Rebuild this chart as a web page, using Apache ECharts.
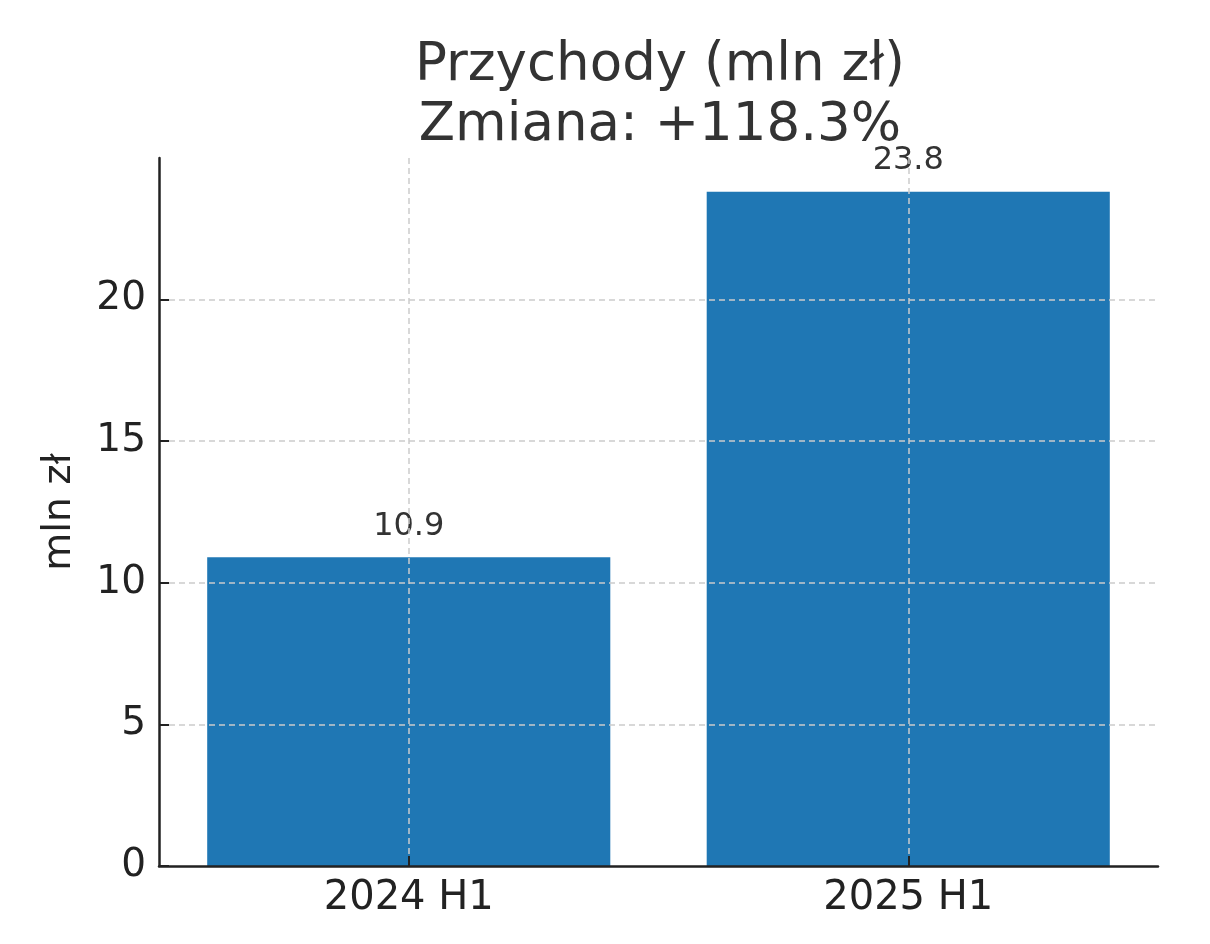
<!DOCTYPE html>
<html><head><meta charset="utf-8">
<script src="https://cdn.jsdelivr.net/npm/echarts@6/dist/echarts.min.js"></script>
<style>html,body{margin:0;padding:0;background:#fff}#c{width:1210px;height:944px}</style>
</head><body><div id="c"></div>
<script>
const categories = ['2024 H1', '2025 H1'];
const revenue = [10.9, 23.8];
const yTicks = [0, 5, 10, 15, 20];
const titleText = 'Przychody (mln zł)\nZmiana: +118.3%';
const yName = 'mln zł';

const chart = echarts.init(document.getElementById('c'), null, {renderer: 'canvas'});
const font = 'DejaVu Sans';
chart.setOption({
  backgroundColor: '#ffffff',
  animation: false,
  title: {
    text: titleText, left: 655, top: 31, textAlign: 'center',
    textStyle: {fontFamily: font, fontSize: 53, fontWeight: 'normal', color: '#333333', lineHeight: 60}
  },
  grid: {left: 159, right: 52, top: 158, bottom: 78},
  xAxis: {
    type: 'category', data: categories, z: 5,
    axisLine: {lineStyle: {color: '#222222', width: 2.5}},
    axisTick: {show: true, inside: true, alignWithLabel: true, length: 10, lineStyle: {color: '#222222', width: 2}},
    axisLabel: {fontFamily: font, fontSize: 40, color: '#222222', margin: 13},
    splitLine: {show: true, alignWithLabel: true, lineStyle: {color: '#cccccc', type: [6, 4], width: 1.5}}
  },
  yAxis: {
    type: 'value', min: 0, max: 24.99, interval: 5, z: 5,
    name: yName, nameLocation: 'middle', nameGap: 80,
    nameTextStyle: {fontFamily: font, fontSize: 39, color: '#222222'},
    axisLine: {show: true, lineStyle: {color: '#222222', width: 2.5}},
    axisTick: {show: true, inside: true, length: 10, customValues: yTicks, lineStyle: {color: '#222222', width: 2}},
    axisLabel: {fontFamily: font, fontSize: 39, color: '#222222', margin: 13, customValues: yTicks},
    splitLine: {show: true, showMinLine: false, lineStyle: {color: '#cccccc', type: [6, 4], width: 1.5}}
  },
  series: [{
    type: 'bar', data: revenue, barWidth: '80.7%',
    itemStyle: {color: '#1f77b4'},
    label: {show: true, position: 'top', distance: 15, fontFamily: font, fontSize: 32, color: '#333333'}
  }]
});
</script></body></html>
